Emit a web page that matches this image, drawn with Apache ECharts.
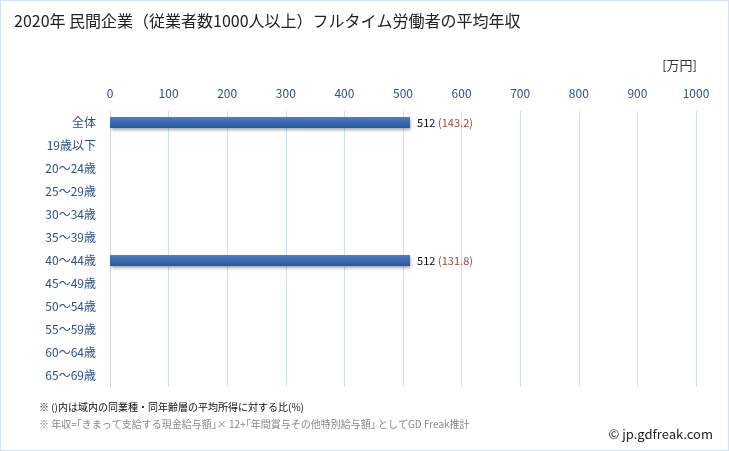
<!DOCTYPE html>
<html><head><meta charset="utf-8">
<script src="https://cdn.jsdelivr.net/npm/echarts@6/dist/echarts.min.js"></script>
<style>html,body{margin:0;padding:0;background:#fff}#c{width:729px;height:451px;box-sizing:border-box;border:1px solid #d3e2f2}</style>
</head><body><div id="c"></div>
<script>
const categories = ['全体','19歳以下','20～24歳','25～29歳','30～34歳','35～39歳','40～44歳','45～49歳','50～54歳','55～59歳','60～64歳','65～69歳'];
const values = [512,null,null,null,null,null,512,null,null,null,null,null];
const ratios = [143.2,null,null,null,null,null,131.8,null,null,null,null,null];
const xTicks = [0,100,200,300,400,500,600,700,800,900,1000];

const chart = echarts.init(document.getElementById('c'), null, {renderer:'canvas'});
const font = '"Noto Sans CJK JP","Noto Sans",sans-serif';
chart.setOption({
  animation:false,
  textStyle:{fontFamily:font},
  graphic:[
    {type:'text',left:13,top:12,style:{text:'2020年 民間企業（従業者数1000人以上）フルタイム労働者の平均年収',font:'16px '+font,fill:'#222'}},
    {type:'text',right:31,top:58,style:{text:'[万円]',font:'13px '+font,fill:'#333'}},
    {type:'text',left:38,top:401,style:{text:'※ ()内は域内の同業種・同年齢層の平均所得に対する比(%)',font:'10px '+font,fill:'#111'}},
    {type:'text',left:38,top:418,style:{text:'※ 年収=｢きまって支給する現金給与額｣× 12+｢年間賞与その他特別給与額｣ としてGD Freak推計',font:'10px '+font,fill:'#888'}},
    {type:'text',right:15,top:427,style:{text:'© jp.gdfreak.com',font:'13px '+font,fill:'#222'}}
  ],
  grid:{left:109,right:32,top:110,bottom:63,containLabel:false},
  xAxis:{type:'value',position:'top',min:0,max:1000,interval:100,
    axisLine:{show:false},axisTick:{show:false},
    axisLabel:{color:'#2f4f86',fontSize:12,margin:12,formatter:v=>xTicks.includes(v)?String(v):''},
    splitLine:{show:true,lineStyle:{color:'#d0dff0',width:1}}},
  yAxis:{type:'category',data:categories,inverse:true,
    axisLine:{show:true,lineStyle:{color:'#d8d8d8'}},axisTick:{show:false},
    axisLabel:{color:'#2f4f86',fontSize:12,margin:14}},
  series:[{type:'bar',data:values,barWidth:11,
    itemStyle:{color:new echarts.graphic.LinearGradient(0,0,0,1,[{offset:0,color:'#4a7fc8'},{offset:1,color:'#2a579c'}]),
      shadowColor:'rgba(0,0,0,0.35)',shadowBlur:3,shadowOffsetX:1,shadowOffsetY:2},
    label:{show:true,position:'right',distance:7,
      formatter:p=>{const r=ratios[p.dataIndex];return '{a|'+p.value+'} {b|('+r.toFixed(1)+')}';},
      rich:{a:{color:'#111',fontSize:11,fontFamily:font},b:{color:'#a04545',fontSize:11,fontFamily:font}}}
  }]
});
</script></body></html>
